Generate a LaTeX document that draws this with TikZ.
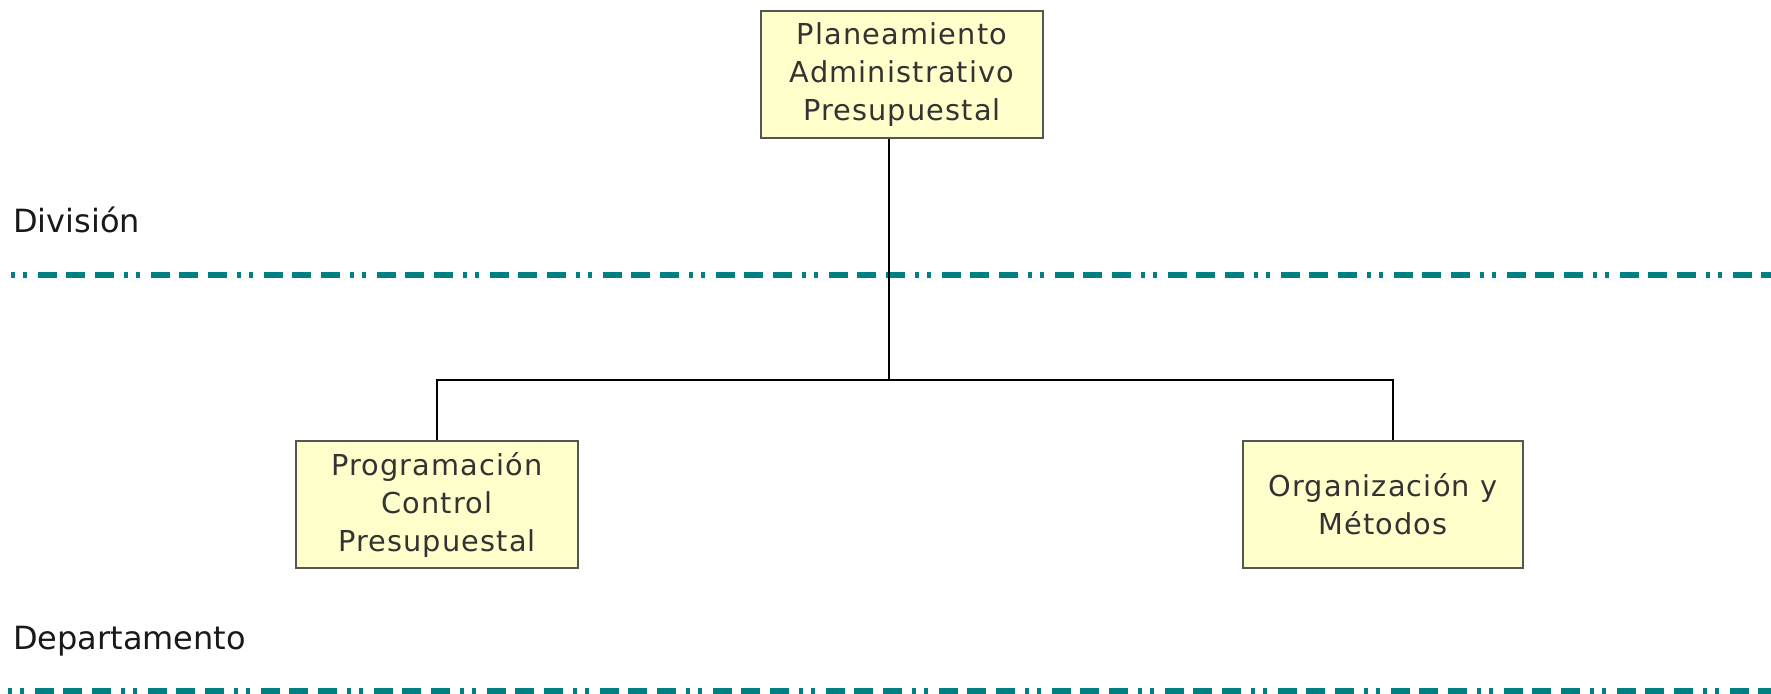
\documentclass[tikz,border=0pt]{standalone}
\usepackage{fontspec}
\newfontfamily\boxfont{DejaVu Sans}[LetterSpace=4]
\newfontfamily\labfont{DejaVu Sans}
\definecolor{boxfill}{HTML}{FFFFCC}
\definecolor{boxline}{HTML}{555555}
\definecolor{boxtext}{HTML}{333333}
\definecolor{levelteal}{HTML}{008080}
\tikzset{
  orgbox/.style={draw=boxline, line width=1.5pt, fill=boxfill, rectangle,
    minimum width=282pt, minimum height=127pt, inner sep=0pt, align=center,
    text=boxtext, font=\boxfont\fontsize{28.8}{38}\selectfont},
  levellabel/.style={anchor=base west, inner sep=0pt, text=black!90,
    font=\labfont\fontsize{32}{38}\selectfont},
  connector/.style={draw=black, line width=1.5pt},
  levelline/.style={draw=levelteal, line width=6pt,
    dash pattern=on 4pt off 8pt on 4pt off 11pt on 19pt off 9pt on 19pt off 10pt on 19pt off 10pt}
}
\begin{document}
\begin{tikzpicture}[x=1pt, y=-1pt]
\useasboundingbox (0,0) rectangle (1771,693);
\node[orgbox] (top) at (902,74.5) {Planeamiento\\Administrativo\\Presupuestal};
\node[orgbox] (left) at (437,504.5) {Programación\\Control\\Presupuestal};
\node[orgbox, minimum width=280pt] (right) at (1383,504.5) {Organización y\\Métodos};
\node[levellabel] (div) at (13,232) {División};
\node[levellabel] (dep) at (13,649) {Departamento};
\coordinate (j) at (889,380);
\coordinate (rj) at (1393,380);
\coordinate (l1a) at (11,274.5);
\coordinate (l1b) at (1771,274.5);
\coordinate (l2a) at (8,691);
\coordinate (l2b) at (1771,691);
\draw[levelline] (l1a) -- (l1b);
\draw[levelline] (l2a) -- (l2b);
\draw[connector] (top.south -| j) -- (j);
\draw[connector] (left.north) |- (rj) -- (rj |- right.north);
\end{tikzpicture}
\end{document}
